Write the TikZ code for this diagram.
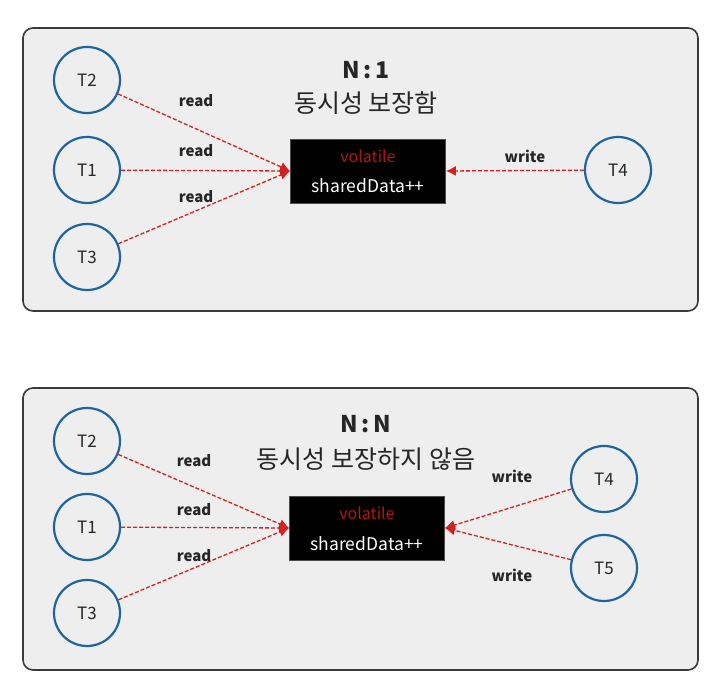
\documentclass[tikz,border=0pt]{standalone}
\usepackage{fontspec}
\setmainfont{Noto Sans CJK KR}
\usetikzlibrary{arrows.meta}
\definecolor{panelbg}{HTML}{EEEEEE}
\definecolor{panelline}{HTML}{3A3A3A}
\definecolor{circblue}{HTML}{1E64A0}
\definecolor{arrred}{HTML}{D42020}
\definecolor{volred}{HTML}{B01818}
\tikzset{
  panel/.style={draw=panelline, line width=1.6pt, fill=panelbg, rounded corners=10pt},
  thread/.style={circle, draw=circblue, line width=2.2pt, minimum size=66pt, inner sep=0pt, font=\fontsize{17}{17}\selectfont, text=black!85},
  databox/.style={fill=black, draw=black!70, line width=0.8pt, minimum width=155pt, minimum height=64pt, inner sep=0pt},
  flow/.style={draw=arrred, line width=1.3pt, dash pattern=on 4pt off 2pt, -{Latex[length=10pt,width=10pt]}},
  lbl/.style={font=\bfseries\fontsize{15}{15}\selectfont, text=black!85},
  ttl/.style={font=\bfseries\fontsize{23}{23}\selectfont, text=black!85},
  sub/.style={font=\fontsize{25}{25}\selectfont, text=black!85},
}
\begin{document}
\begin{tikzpicture}[x=1pt,y=-1pt]
\useasboundingbox (0,0) rectangle (724,700);
\fill[white] (0,0) rectangle (724,700);
% ---------- top panel ----------
\path[panel] (23,28) rectangle (698,311);
\node[ttl] (t1) at (366,70) {N\,:\,1};
\node[sub] (s1) at (366,103) {동시성 보장함};
\node[databox] (box1) at (368,171) {};
\node[text=volred, font=\fontsize{16}{16}\selectfont] (v1) at (368,156) {volatile};
\node[text=white, font=\fontsize{17.5}{17.5}\selectfont] (d1) at (368,186) {sharedData++};
\node[thread] (a2) at (87,80) {T2};
\node[thread] (a1) at (87,170) {T1};
\node[thread] (a3) at (87,257) {T3};
\node[thread] (a4) at (618,170) {T4};
\draw[flow] (a2) -- (box1.west);
\draw[flow] (a1) -- (box1.west);
\draw[flow] (a3) -- (box1.west);
\draw[flow] (a4) -- (box1.east);
\node[lbl] (r1) at (196,101) {read};
\node[lbl] (r2) at (196,151) {read};
\node[lbl] (r3) at (196,197) {read};
\node[lbl] (w1) at (525,156) {write};
% ---------- bottom panel ----------
\path[panel] (23,388) rectangle (698,670);
\node[ttl] (t2) at (366,424) {N\,:\,N};
\node[sub] (s2) at (366,459) {동시성 보장하지 않음};
\node[databox] (box2) at (367,528) {};
\node[text=volred, font=\fontsize{16}{16}\selectfont] (v2) at (367,513) {volatile};
\node[text=white, font=\fontsize{17.5}{17.5}\selectfont] (d2) at (367,544) {sharedData++};
\node[thread] (b2) at (87,441) {T2};
\node[thread] (b1) at (87,527) {T1};
\node[thread] (b3) at (87,613) {T3};
\node[thread] (b4) at (604,479) {T4};
\node[thread] (b5) at (604,568) {T5};
\draw[flow] (b2) -- (box2.west);
\draw[flow] (b1) -- (box2.west);
\draw[flow] (b3) -- (box2.west);
\draw[flow] (b4) -- (box2.east);
\draw[flow] (b5) -- (box2.east);
\node[lbl] (q1) at (194,461) {read};
\node[lbl] (q2) at (194,510) {read};
\node[lbl] (q3) at (194,556) {read};
\node[lbl] (x1) at (512,476) {write};
\node[lbl] (x2) at (512,575) {write};
\end{tikzpicture}
\end{document}
